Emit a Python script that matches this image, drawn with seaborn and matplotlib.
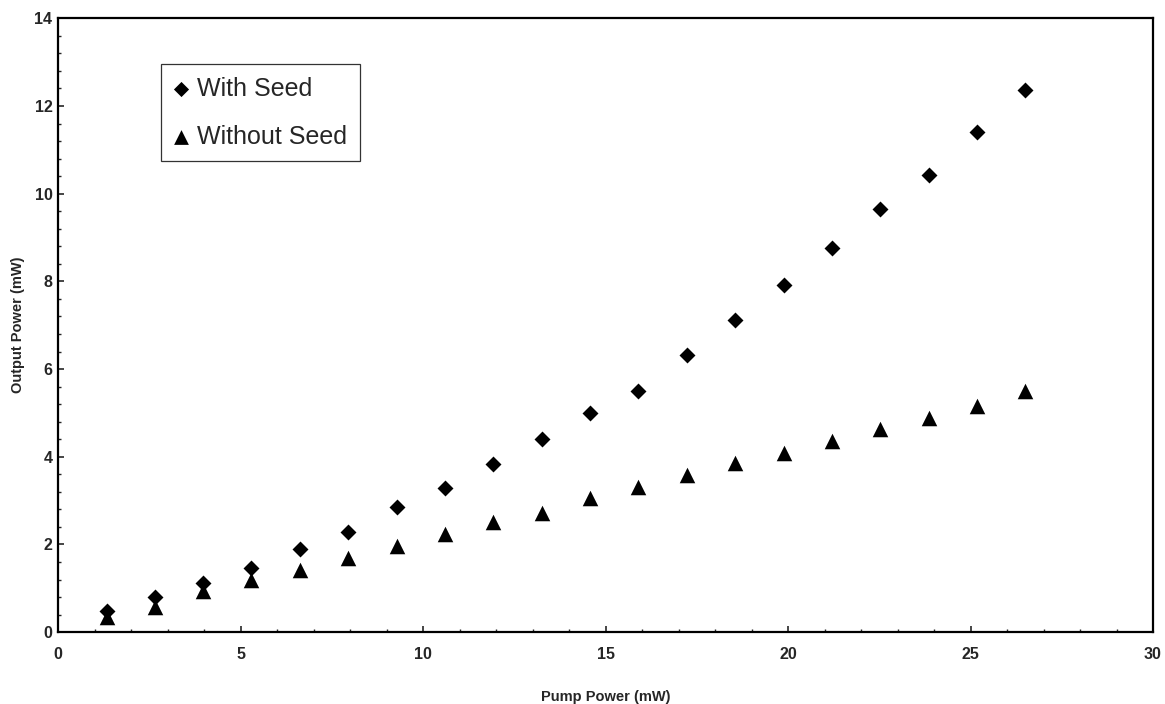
"""
Output power vs pump power, with and without seed
"""

import matplotlib
matplotlib.use('Agg')
import matplotlib.pyplot as plt
from matplotlib.ticker import MultipleLocator
import pandas as pd
import seaborn as sns

# Data
pump_power = [1.33, 2.65, 3.98, 5.3, 6.63, 7.95, 9.28, 10.6, 11.93, 13.25,
              14.58, 15.9, 17.23, 18.55, 19.88, 21.2, 22.53, 23.85, 25.18, 26.5]
with_seed = [0.48, 0.81, 1.13, 1.46, 1.89, 2.29, 2.86, 3.29, 3.83, 4.4,
             5.01, 5.5, 6.32, 7.12, 7.91, 8.77, 9.64, 10.43, 11.4, 12.37]
without_seed = [0.34, 0.58, 0.93, 1.19, 1.41, 1.69, 1.97, 2.24, 2.52, 2.72,
                3.07, 3.31, 3.58, 3.86, 4.08, 4.35, 4.63, 4.88, 5.16, 5.49]
series_labels = ['With Seed', 'Without Seed']


def make_plot(out_path='out.png'):
    sns.set_style('ticks')
    plt.rcParams['font.family'] = ['Liberation Sans', 'DejaVu Sans']

    df = pd.DataFrame({
        'pump': pump_power * 2,
        'output': with_seed + without_seed,
        'series': [series_labels[0]] * len(with_seed) + [series_labels[1]] * len(without_seed),
    })

    fig = plt.figure(figsize=(11.65, 7.04), dpi=100)
    ax = fig.add_axes([0.0498, 0.102, 0.9399, 0.872])

    # diamonds
    sns.scatterplot(data=df[df['series'] == series_labels[0]], x='pump', y='output',
                    marker='D', s=66, color='black', edgecolor='black', linewidth=0,
                    label=series_labels[0], ax=ax)
    # triangles
    sns.scatterplot(data=df[df['series'] == series_labels[1]], x='pump', y='output',
                    marker='^', s=125, color='black', edgecolor='black', linewidth=0,
                    label=series_labels[1], ax=ax)

    ax.set_xlim(0, 30)
    ax.set_ylim(0, 14)
    ax.xaxis.set_major_locator(MultipleLocator(5))
    ax.xaxis.set_minor_locator(MultipleLocator(1))
    ax.yaxis.set_major_locator(MultipleLocator(2))
    ax.yaxis.set_minor_locator(MultipleLocator(0.4))
    ax.tick_params(which='major', direction='in', length=4, width=1.2,
                   labelsize=11.5)
    ax.tick_params(axis='x', which='major', pad=11)
    ax.tick_params(axis='y', which='major', pad=4)
    ax.tick_params(which='minor', direction='in', length=2.5, width=1)
    for lbl in ax.get_xticklabels() + ax.get_yticklabels():
        lbl.set_fontweight('bold')

    for spine in ax.spines.values():
        spine.set_visible(True)
        spine.set_linewidth(1.6)
        spine.set_color('black')

    ax.set_xlabel('Pump Power (mW)', fontsize=10.5, fontweight='bold', labelpad=20)
    ax.set_ylabel('Output Power (mW)', fontsize=10.5, fontweight='bold', labelpad=7)

    leg = ax.legend(loc='upper left', bbox_to_anchor=(0.094, 0.925), borderaxespad=0,
                    fontsize=18, frameon=True, fancybox=False, edgecolor='black',
                    handlelength=0.6, handletextpad=0.35, labelspacing=0.95,
                    borderpad=0.5, markerscale=0.95)
    leg.get_frame().set_linewidth(0.9)

    fig.savefig(out_path, dpi=100, facecolor='white')


if __name__ == '__main__':
    make_plot()
